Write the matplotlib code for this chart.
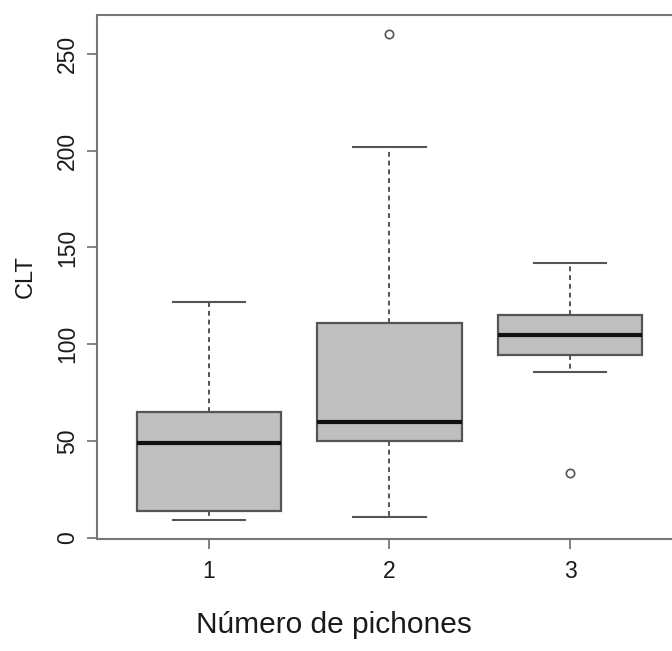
import matplotlib
matplotlib.use("Agg")
import matplotlib.pyplot as plt

plt.rcParams['font.family'] = ['Liberation Sans', 'DejaVu Sans']

# Five-number summaries per group (CLT by number of chicks)
groups = ["1", "2", "3"]
whisker_low = [9.5, 11, 85.5]
q1 = [14, 50, 94.5]
medians = [49, 60, 105]
q3 = [65, 111, 115]
whisker_high = [122, 202, 142]
outliers = [[], [260], [33.5]]

stats = []
for i, g in enumerate(groups):
    stats.append(dict(label=g, whislo=whisker_low[i], q1=q1[i], med=medians[i],
                      q3=q3[i], whishi=whisker_high[i], fliers=outliers[i]))

fig = plt.figure(figsize=(6.72, 6.51), dpi=100)
ax = fig.add_axes([97 / 672, 1 - 539 / 651, (682 - 97) / 672, (539 - 15) / 651])

edge = "#555555"
ax.bxp(stats, positions=[1, 2, 3], widths=0.8, capwidths=0.4,
       patch_artist=True,
       boxprops=dict(facecolor="#bfbfbf", edgecolor=edge, linewidth=1.6),
       medianprops=dict(color="#111111", linewidth=3.0, solid_capstyle="butt"),
       whiskerprops=dict(color=edge, linewidth=1.4, linestyle=(0, (2.5, 2))),
       capprops=dict(color=edge, linewidth=1.5),
       flierprops=dict(marker="o", markersize=6, markerfacecolor="none",
                       markeredgecolor=edge, markeredgewidth=1.2))

ax.set_xlim(0.38, 3.62)
ax.set_ylim(-0.52, 270)
ax.set_xticks([1, 2, 3])
ax.set_xticklabels(groups)
ax.set_yticks([0, 50, 100, 150, 200, 250])
ax.set_yticklabels(["0", "50", "100", "150", "200", "250"], rotation=90, va="center")

for s in ax.spines.values():
    s.set_color("#777777")
    s.set_linewidth(1.5)

ax.tick_params(axis="both", length=7, width=1.3, color="#777777",
               labelsize=16.5, labelcolor="#1a1a1a")
ax.tick_params(axis="x", pad=8)
ax.tick_params(axis="y", pad=6)
ax.set_ylabel("CLT", fontsize=17, color="#1a1a1a", labelpad=14)

fig.text(334 / 672, 1 - 625 / 651, "Número de pichones", fontsize=21.5,
         color="#1a1a1a", ha="center", va="center")

fig.savefig("out.png", dpi=100)
